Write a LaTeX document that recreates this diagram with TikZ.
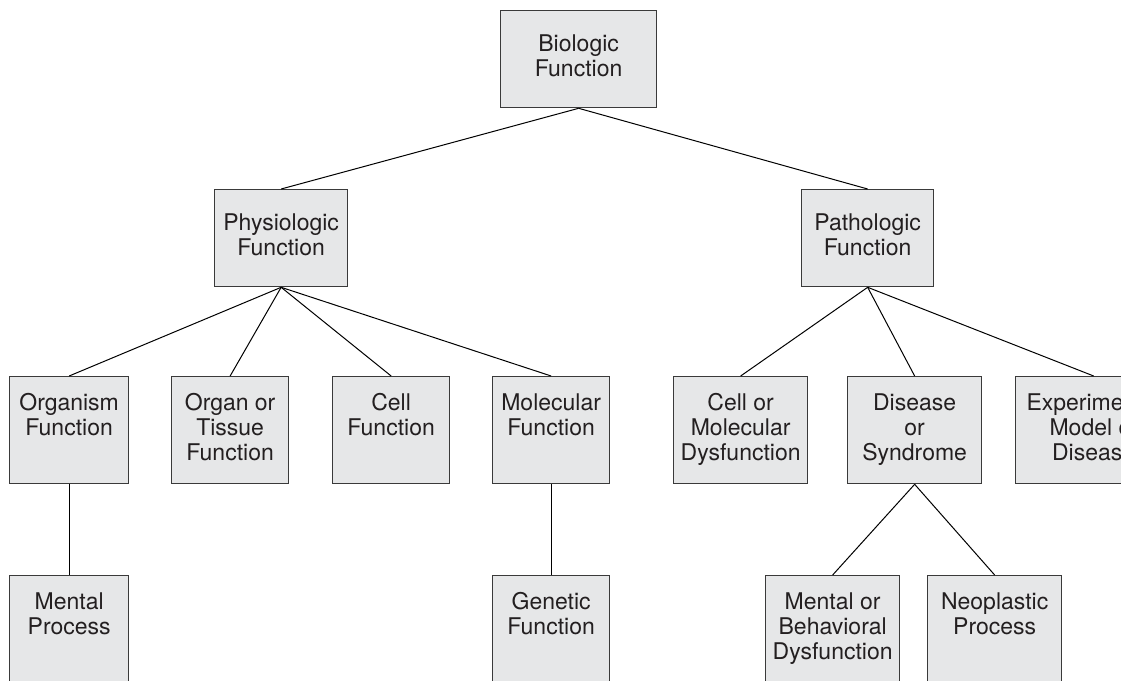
\documentclass[tikz,border=0pt]{standalone}
\usepackage{fontspec}
\setmainfont{TeX Gyre Heros}
\definecolor{boxfill}{HTML}{E6E7E8}
\definecolor{boxline}{HTML}{3A3A3A}
\definecolor{txt}{HTML}{231F20}
\newcommand{\bt}[4]{\parbox[c][#2][t]{#1}{\centering\rule{0pt}{#3}#4}}
\tikzset{
  tbox/.style={draw=boxline, fill=boxfill, line width=1.3pt, inner sep=0pt, anchor=north west,
    text=txt, font=\fontsize{23}{25}\selectfont},
  conn/.style={draw=black, line width=1pt}
}
\begin{document}
\begin{tikzpicture}[x=1pt,y=-1pt]
\useasboundingbox (0,0) rectangle (1121,680);
\clip (0,0) rectangle (1121,680);
\fill[white] (0,0) rectangle (1121,680);
% level 1
\node[tbox] (bio) at (500,10) {\bt{156pt}{97pt}{41pt}{Biologic\\Function}};
% level 2
\node[tbox] (phys) at (214,189) {\bt{133pt}{97pt}{41pt}{Physiologic\\Function}};
\node[tbox] (path) at (801,189) {\bt{132pt}{97pt}{41pt}{Pathologic\\Function}};
% level 3
\node[tbox] (org) at (9,376) {\bt{119pt}{107pt}{34pt}{Organism\\Function}};
\node[tbox] (organ) at (171,376) {\bt{117pt}{107pt}{34pt}{Organ or\\Tissue\\Function}};
\node[tbox] (cell) at (332,376) {\bt{117pt}{107pt}{34pt}{Cell\\Function}};
\node[tbox] (mol) at (492,376) {\bt{117pt}{107pt}{34pt}{Molecular\\Function}};
\node[tbox] (cmd) at (673,376) {\bt{134pt}{107pt}{34pt}{Cell or\\Molecular\\Dysfunction}};
\node[tbox] (dis) at (847,376) {\bt{134pt}{107pt}{34pt}{Disease\\or\\Syndrome}};
\node[tbox] (exp) at (1015,376) {\bt{156pt}{107pt}{34pt}{Experimental\\Model of\\Disease}};
% level 4
\node[tbox] (ment) at (9,575) {\bt{119pt}{112pt}{34pt}{Mental\\Process}};
\node[tbox] (gen) at (492,575) {\bt{117pt}{112pt}{34pt}{Genetic\\Function}};
\node[tbox] (mbd) at (765,575) {\bt{134pt}{112pt}{34pt}{Mental or\\Behavioral\\Dysfunction}};
\node[tbox] (neo) at (927,575) {\bt{134pt}{112pt}{34pt}{Neoplastic\\Process}};
% connectors
\draw[conn] (bio.south) -- (phys.north);
\draw[conn] (bio.south) -- (path.north);
\draw[conn] (phys.south) -- (org.north);
\draw[conn] (phys.south) -- (organ.north);
\draw[conn] (phys.south) -- (cell.north);
\draw[conn] (phys.south) -- (mol.north);
\draw[conn] (path.south) -- (cmd.north);
\draw[conn] (path.south) -- (dis.north);
\draw[conn] (path.south) -- (exp.north);
\draw[conn] (org.south) -- (ment.north);
\draw[conn] (mol.south) -- (gen.north);
\draw[conn] (dis.south) -- (mbd.north);
\draw[conn] (dis.south) -- (neo.north);
\end{tikzpicture}
\end{document}
